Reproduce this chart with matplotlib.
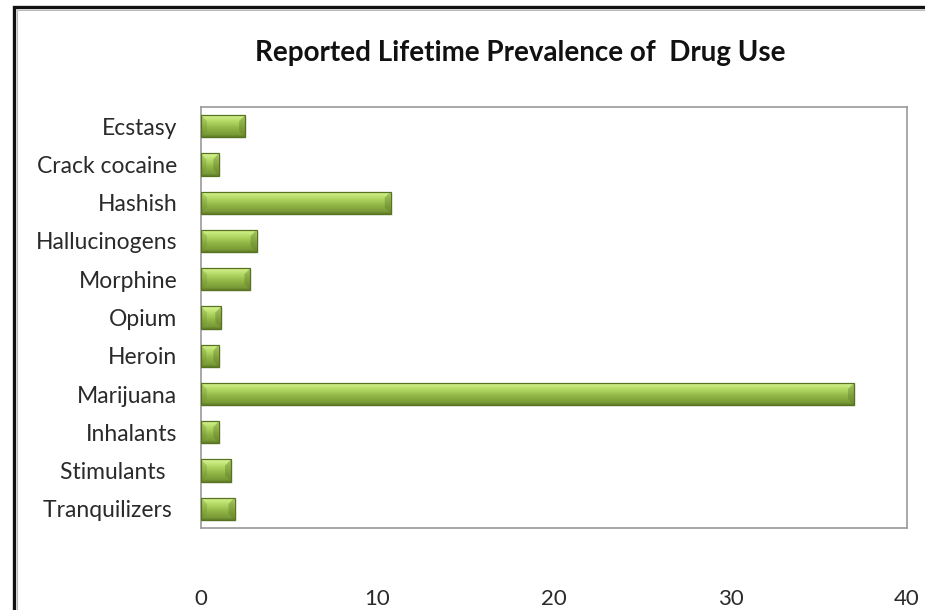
import numpy as np
import matplotlib
matplotlib.use("Agg")
import matplotlib.pyplot as plt
from matplotlib.patches import Rectangle, Polygon
from matplotlib.colors import LinearSegmentedColormap

# Lifetime prevalence (%) by substance, bottom to top
drugs = ["Tranquilizers ", "Stimulants  ", "Inhalants", "Marijuana", "Heroin",
         "Opium", "Morphine", "Hallucinogens", "Hashish", "Crack cocaine", "Ecstasy"]
prevalence = [1.9, 1.7, 1.0, 37.0, 1.0, 1.15, 2.8, 3.15, 10.75, 1.0, 2.5]
x_ticks = [0, 10, 20, 30, 40]

plt.rcParams["font.family"] = ["Lato", "DejaVu Sans"]

fig = plt.figure(figsize=(9.25, 6.1), dpi=100)
fig.patch.set_facecolor("white")

# chart frame (left/top edges visible)
fig.patches.append(Rectangle((13.5 / 925, -0.1), 1.2, 1 - 6.5 / 610 + 0.1,
                             transform=fig.transFigure, fill=False,
                             edgecolor="#111111", linewidth=2.4, zorder=0))
fig.patches.append(Rectangle((16.5 / 925, -0.1), 1.2, 1 - 9.5 / 610 + 0.1,
                             transform=fig.transFigure, fill=False,
                             edgecolor="#bbbbbb", linewidth=0.8, zorder=0))

ax = fig.add_axes([201 / 925, 1 - 528 / 610, (907 - 201) / 925, (528 - 107) / 610])
ax.set_xlim(0, 40)
ax.set_ylim(-0.5, len(drugs) - 0.5)

grad_cmap = LinearSegmentedColormap.from_list(
    "bevel", [(0.0, "#5f7b2a"), (0.1, "#7a9a36"), (0.4, "#93b747"),
              (0.62, "#acd15d"), (0.8, "#c2e576"), (0.9, "#cdee86"), (1.0, "#dcf7a0")])
grad = np.linspace(0, 1, 64).reshape(-1, 1)

bar_h = 0.58
ypos = np.arange(len(drugs))
bars = ax.barh(ypos, prevalence, height=bar_h, color="#9bbb59",
               linewidth=0, zorder=3)
ppx = 40 / 706.0           # one pixel in data units along x
bev_x = 6 * ppx
bev_y = 0.16
for rect, val, y in zip(bars, prevalence, ypos):
    y0, y1 = y - bar_h / 2, y + bar_h / 2
    # soft drop shadow
    ax.add_patch(Rectangle((0, y0 - 0.05), val + 2 * ppx, bar_h, facecolor="#000000",
                           alpha=0.05, linewidth=0, zorder=2))
    im = ax.imshow(grad, cmap=grad_cmap, aspect="auto", origin="lower",
                   extent=(0, val, y0, y1), zorder=3.5, interpolation="bicubic")
    im.set_clip_path(rect)
    b = min(bev_x, val * 0.3)
    # bevelled ends
    ax.add_patch(Polygon([(0, y0), (b, y0 + bev_y), (b, y1 - bev_y), (0, y1)],
                         closed=True, facecolor="#6d8c30", alpha=0.3, linewidth=0, zorder=3.6))
    ax.add_patch(Polygon([(val, y0), (val - b, y0 + bev_y), (val - b, y1 - bev_y), (val, y1)],
                         closed=True, facecolor="#5f7b2a", alpha=0.4, linewidth=0, zorder=3.6))
    ax.add_patch(Rectangle((0, y0), val, bar_h, fill=False,
                           edgecolor="#58731f", linewidth=0.9, zorder=3.8))

ax.set_yticks(ypos)
ax.set_yticklabels(drugs, fontsize=16.5, color="#2a2a2a")
ax.set_xticks(x_ticks)
ax.set_xticklabels([str(t) for t in x_ticks], fontsize=16, color="#2a2a2a")
ax.tick_params(axis="both", length=0)
ax.tick_params(axis="y", pad=17)
ax.tick_params(axis="x", pad=44)
for s in ax.spines.values():
    s.set_color("#9a9a9a")
    s.set_linewidth(1.2)

fig.text(520 / 925, 1 - 53 / 610, "Reported Lifetime Prevalence of  Drug Use",
         ha="center", va="center", fontsize=20, fontweight="bold", color="#111111")

fig.savefig("out.png", dpi=100)
